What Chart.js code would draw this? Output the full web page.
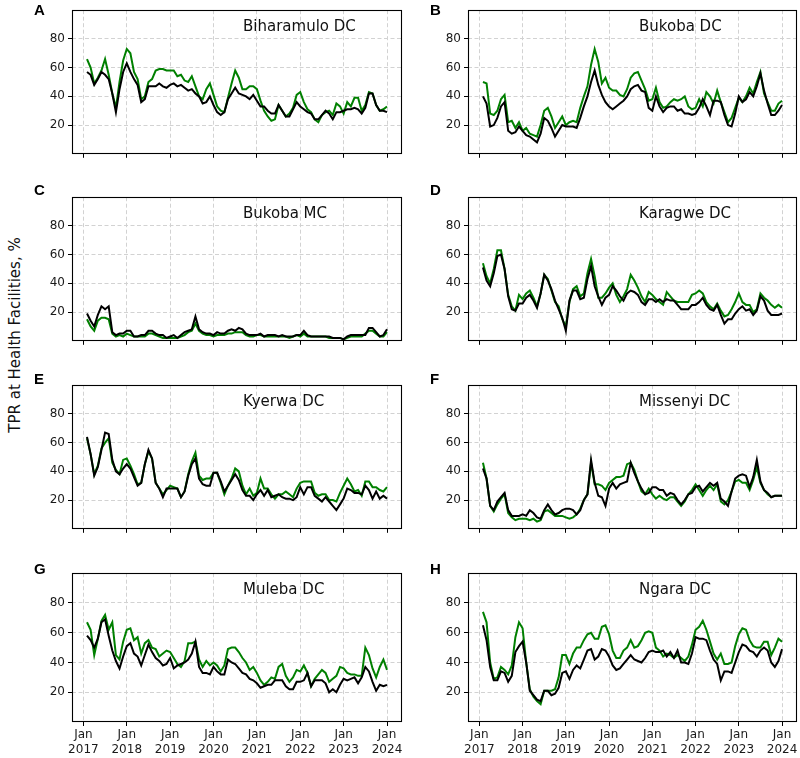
<!DOCTYPE html>
<html>
<head>
<meta charset="utf-8">
<script src="https://cdn.jsdelivr.net/npm/chart.js@4.4.1/dist/chart.umd.min.js"></script>
<style>
  body { margin: 0; background: #fff; width: 800px; height: 758px; overflow: hidden; position: relative; font-family: "DejaVu Sans", sans-serif; }
  canvas { position: absolute; }
  .letter { position: absolute; font: bold 15px "Liberation Sans", Arial, sans-serif; line-height: 15px; color: #000; }
  .name { position: absolute; font-size: 15px; line-height: 15px; color: #111; white-space: nowrap; }
  #ylabel { position: absolute; left: 15px; top: 335px; transform: translate(-50%, -50%) rotate(-90deg); font-size: 15px; white-space: nowrap; color: #111; }
</style>
</head>
<body>
<div id="ylabel">TPR at Health Facilities, %</div>
<script>
// monthly values, Jan 2017 .. Dec 2023 (84 months)
const biharamuloGreen = [66,60,49,53,58,66,55,42,32,50,65,73, 70,57,52,38,40,50,52,58,59,59,58,58, 58,54,55,51,50,54,47,40,38,45,49,41, 33,30,29,39,49,58,53,45,45,47,47,45, 37,30,26,23,24,34,30,26,28,32,41,43, 36,31,29,24,22,27,29,30,27,35,33,28, 36,33,39,39,30,34,43,42,34,30,31,33];
const biharamuloBlack = [57,55,48,52,57,55,52,42,29,45,57,63, 57,52,48,36,38,47,47,47,49,47,46,48, 49,47,48,46,44,45,42,40,35,36,40,34, 29,27,29,38,42,46,42,41,40,38,41,37, 33,33,30,28,28,34,30,26,26,31,36,33, 31,29,28,24,24,27,30,28,24,29,29,30, 31,31,32,31,28,32,42,42,34,30,30,29];

const bukobaDcGreen = [50,49,28,27,30,38,41,22,23,18,22,16, 18,14,13,12,20,30,32,26,18,22,26,20, 22,23,22,32,40,47,62,73,64,49,53,46, 44,44,41,40,45,53,56,57,51,45,37,38, 46,36,32,33,36,38,37,38,40,33,31,32, 38,33,43,40,35,44,36,29,22,25,32,39, 36,40,46,42,50,57,42,36,30,30,35,37];
const bukobaDcBlack = [40,35,19,20,25,33,36,16,14,15,19,16, 13,12,10,8,14,25,23,18,12,16,20,19, 19,19,18,25,33,40,50,58,48,41,36,33, 31,33,35,37,40,45,47,48,44,43,32,30, 40,33,29,32,33,33,30,31,28,28,27,28, 32,38,33,27,37,37,36,27,20,19,28,40, 36,38,43,40,47,56,44,35,27,27,30,34];

const bukobaMcGreen = [15,10,7,14,16,16,15,5,3,4,3,5, 4,3,3,3,3,5,5,4,3,2,2,2, 2,2,3,4,6,7,12,7,5,4,4,3, 4,4,4,5,5,6,6,6,4,3,3,4, 4,3,3,3,3,3,3,3,2,3,4,3, 5,3,3,3,3,3,3,2,2,2,2,1, 2,3,3,3,3,5,7,7,5,3,3,6];
const bukobaMcBlack = [19,14,10,18,24,22,24,6,4,5,5,7, 7,3,3,4,4,7,7,5,4,4,2,3, 4,2,4,6,7,8,17,8,6,5,5,4, 6,5,5,7,8,7,9,8,5,4,4,4, 5,3,4,4,4,3,4,3,3,3,4,4, 7,4,3,3,3,3,3,3,2,2,2,1, 3,4,4,4,4,4,9,9,6,3,4,8];

const karagweGreen = [54,45,40,50,63,63,50,32,24,21,32,29, 33,35,30,24,33,46,43,35,27,24,15,10, 27,36,38,31,33,47,57,45,30,30,33,37, 40,32,27,31,36,46,42,37,31,27,34,32, 29,27,25,34,31,28,27,27,27,27,32,33, 35,33,27,24,22,26,21,17,18,22,27,33, 27,25,25,20,22,33,30,28,25,23,25,23];
const karagweBlack = [51,42,38,47,59,60,50,31,22,21,26,26, 30,32,28,23,33,46,42,36,28,22,16,7, 28,35,35,29,30,43,52,38,31,25,30,32, 38,35,31,28,33,35,34,32,27,25,29,29, 27,29,27,29,28,28,25,22,22,22,25,25, 27,30,25,22,21,25,18,12,15,15,19,22, 24,21,22,18,21,31,28,21,18,18,18,19];

const kyerwaGreen = [63,52,38,44,56,60,63,46,41,38,48,49, 44,38,31,32,45,54,49,32,28,24,27,30, 29,28,22,26,38,47,53,37,34,35,35,39, 39,32,24,30,35,42,40,30,24,28,23,25, 35,28,28,24,21,24,24,26,24,22,28,32, 33,33,33,25,23,24,24,20,20,19,25,30, 35,31,26,27,23,33,33,29,29,27,26,29];
const kyerwaBlack = [64,52,37,43,55,67,66,48,40,38,42,45, 42,36,30,32,45,55,49,32,28,22,28,28, 28,28,22,26,37,45,49,35,31,30,30,39, 39,33,26,30,34,38,34,27,23,23,20,24, 27,23,27,22,23,24,22,21,21,20,22,29, 24,29,29,23,21,19,22,19,16,13,17,21, 28,27,25,25,24,30,27,21,26,21,23,21];

const missenyiGreen = [46,35,16,12,17,21,24,11,8,6,7,7, 7,6,7,5,6,12,13,11,9,9,9,8, 7,8,10,14,20,24,46,31,31,30,27,32, 34,36,36,37,45,46,41,33,26,24,28,24, 21,23,21,20,22,22,19,16,19,24,27,31, 27,23,27,30,27,31,19,17,20,26,33,34, 32,32,27,34,43,32,27,24,22,23,23,23];
const missenyiBlack = [42,35,16,13,19,22,25,13,9,9,9,10, 9,13,11,8,7,13,17,13,10,11,13,14, 14,13,10,13,20,24,48,32,23,22,16,28, 32,28,31,32,33,46,39,33,28,24,25,29, 29,27,27,23,25,24,20,17,20,24,25,29, 30,26,29,32,30,32,21,19,16,26,35,37, 38,37,29,36,48,33,27,25,22,23,23,23];

const mulebaGreen = [67,62,45,56,68,72,62,67,45,42,54,62, 63,55,57,46,53,55,50,49,44,46,48,47, 43,39,37,41,53,53,54,42,37,41,38,40, 38,34,38,49,50,50,47,43,40,35,37,33, 28,25,27,30,29,37,39,31,27,30,35,34, 38,33,24,29,32,35,33,27,29,31,37,36, 33,32,32,31,31,50,45,36,30,37,42,35];
const mulebaBlack = [58,55,50,56,67,69,58,48,41,36,44,51, 53,46,44,38,45,52,47,43,41,38,39,43, 36,38,39,40,42,46,54,37,33,33,32,37, 34,32,32,42,40,39,36,33,32,29,28,26, 23,24,25,25,28,28,28,24,22,22,27,27, 28,33,24,28,28,28,26,20,22,20,25,29, 28,29,30,26,30,37,34,27,21,25,24,25];

const ngaraGreen = [74,67,40,29,30,37,35,32,38,57,67,63, 40,22,17,14,12,21,21,21,22,30,45,45, 39,46,50,50,55,59,60,56,56,64,65,59, 48,43,43,48,50,55,50,51,55,60,61,60, 50,48,44,46,45,43,45,43,41,44,52,62, 64,68,62,54,46,42,46,39,39,40,51,59, 63,62,55,51,50,50,54,54,45,50,56,54];
const ngaraBlack = [65,55,37,28,28,34,33,27,31,47,51,54, 40,21,18,15,14,21,21,18,19,23,33,34, 29,35,38,36,42,48,49,42,44,49,48,44, 38,35,36,39,42,45,42,41,40,43,47,48, 47,47,48,44,47,43,48,40,40,39,46,57, 56,56,55,48,42,39,28,34,34,33,40,47, 52,51,48,47,44,48,50,48,40,37,41,49];

const yearTicks = [2017, 2018, 2019, 2020, 2021, 2022, 2023, 2024];
const yTicks = [20, 40, 60, 80];

// month labels, plotted at month end
const months = [];
for (let y = 2017; y <= 2023; y++) {
  for (let m = 1; m <= 12; m++) months.push(y + "-" + String(m).padStart(2, "0"));
}
function monthPos(label) {
  const [y, m] = label.split("-").map(Number);
  return y + m / 12;
}

const panels = [
  { letter: "A", name: "Biharamulo DC", green: biharamuloGreen, black: biharamuloBlack },
  { letter: "B", name: "Bukoba DC", green: bukobaDcGreen, black: bukobaDcBlack },
  { letter: "C", name: "Bukoba MC", green: bukobaMcGreen, black: bukobaMcBlack },
  { letter: "D", name: "Karagwe DC", green: karagweGreen, black: karagweBlack },
  { letter: "E", name: "Kyerwa DC", green: kyerwaGreen, black: kyerwaBlack },
  { letter: "F", name: "Missenyi DC", green: missenyiGreen, black: missenyiBlack },
  { letter: "G", name: "Muleba DC", green: mulebaGreen, black: mulebaBlack },
  { letter: "H", name: "Ngara DC", green: ngaraGreen, black: ngaraBlack }
];

// layout of the frames
const colLeft = [72, 468];
const colWidth = [330, 329];
const rowTop = [3, 190, 378, 566];
const frameH = 156;
const letterTop = [2, 182, 371, 561];

const xMin = 2016.7375, xMax = 2024.3458;
const tickFont = { family: "DejaVu Sans", size: 12, lineHeight: 1.2 };

// draws the 4-sided box around the plot area
const framePlugin = {
  id: "frame",
  afterDraw(chart) {
    const { ctx, chartArea: a } = chart;
    ctx.save();
    ctx.strokeStyle = "#000";
    ctx.lineWidth = 1.1;
    ctx.strokeRect(Math.round(a.left) + 0.5, Math.round(a.top) + 0.5, Math.round(a.right - a.left) - 1, Math.round(a.bottom - a.top) - 1);
    ctx.restore();
  }
};

function toPoints(values) {
  return values.map((v, i) => ({ x: monthPos(months[i]), y: v }));
}

panels.forEach((p, k) => {
  const col = k % 2, row = Math.floor(k / 2);
  const bottom = row === 3;
  const L = colLeft[col], W = colWidth[col], T = rowTop[row];
  const xh = bottom ? 36 : 5;

  const canvas = document.createElement("canvas");
  canvas.width = 60 + W + 4;
  canvas.height = 3 + frameH + xh;
  canvas.style.left = (L - 60) + "px";
  canvas.style.top = (T - 3) + "px";
  document.body.appendChild(canvas);

  const letter = document.createElement("div");
  letter.className = "letter";
  letter.textContent = p.letter;
  letter.style.left = (L - 38) + "px";
  letter.style.top = letterTop[row] + "px";
  document.body.appendChild(letter);

  const name = document.createElement("div");
  name.className = "name";
  name.textContent = p.name;
  name.style.left = (L + 171) + "px";
  name.style.top = (T + 16) + "px";
  document.body.appendChild(name);

  const gridOpts = { color: "#d2d2d2", lineWidth: 1, tickLength: 4, tickColor: "#000", tickWidth: 1, tickBorderDash: [] };

  new Chart(canvas, {
    type: "line",
    data: {
      datasets: [
        { data: toPoints(p.black), borderColor: "#000", borderWidth: 2, pointRadius: 0, tension: 0 },
        { data: toPoints(p.green), borderColor: "#008000", borderWidth: 2, pointRadius: 0, tension: 0 }
      ]
    },
    options: {
      responsive: false,
      animation: false,
      events: [],
      layout: { padding: { top: 3, right: 4, left: 0, bottom: 0 } },
      plugins: { legend: { display: false }, tooltip: { enabled: false } },
      scales: {
        x: {
          type: "linear",
          min: xMin,
          max: xMax,
          afterBuildTicks: s => { s.ticks = yearTicks.map(v => ({ value: v })); },
          afterFit: s => { s.height = xh; },
          ticks: {
            autoSkip: false, maxRotation: 0, padding: 2, color: "#1a1a1a", font: tickFont,
            callback: v => bottom ? ["Jan", String(v)] : ""
          },
          grid: gridOpts,
          border: { display: false, dash: [4, 2.5] }
        },
        y: {
          min: 0,
          max: 100,
          afterBuildTicks: s => { s.ticks = yTicks.map(v => ({ value: v })); },
          afterFit: s => { s.width = 60; },
          ticks: { padding: 3, color: "#1a1a1a", font: tickFont },
          grid: gridOpts,
          border: { display: false, dash: [4, 2.5] }
        }
      }
    },
    plugins: [framePlugin]
  });
});
</script>
</body>
</html>
